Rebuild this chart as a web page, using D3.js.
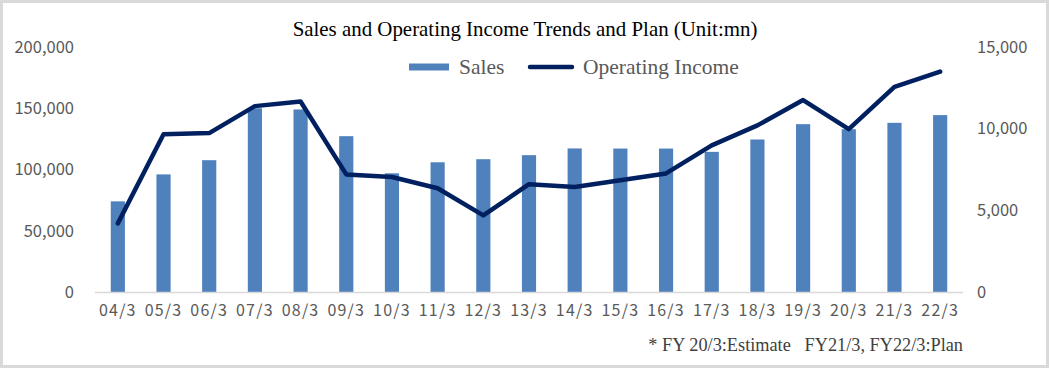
<!DOCTYPE html>
<html>
<head>
<meta charset="utf-8">
<script src="https://cdn.jsdelivr.net/npm/d3@7"></script>
<style>
  body { margin: 0; background: #fff; }
  svg { display: block; }
</style>
</head>
<body>
<svg id="chart" width="1049" height="368"></svg>
<script>
// fiscal years (ending March)
var years = ["04/3","05/3","06/3","07/3","08/3","09/3","10/3","11/3","12/3","13/3",
             "14/3","15/3","16/3","17/3","18/3","19/3","20/3","21/3","22/3"];
// sales, mn (left axis)
var sales = [74000, 96000, 107600, 150000, 149000, 127200, 96900, 105900, 108400, 111700,
             117200, 117100, 117100, 114400, 124500, 137000, 132900, 138100, 144400];
// operating income, mn (right axis)
var opIncome = [4200, 9660, 9730, 11380, 11660, 7200, 7040, 6350, 4690, 6600,
                6430, 6840, 7260, 8980, 10200, 11750, 9970, 12560, 13490];
var leftTicks = [0, 50000, 100000, 150000, 200000];
var rightTicks = [0, 5000, 10000, 15000];

var svg = d3.select("#chart");
var W = 1049, H = 368;
var m = {left: 95, right: 86, top: 47, bottom: 76}; // plot area 95..963, 47..292

// outer grey frame
svg.append("rect")
  .attr("x", 1.5).attr("y", 1.5)
  .attr("width", W - 3).attr("height", H - 3)
  .attr("fill", "#fff")
  .attr("stroke", "#d9d9d9")
  .attr("stroke-width", 3);

var x = d3.scaleBand()
  .domain(years)
  .range([m.left, W - m.right])
  .paddingInner(0.69)
  .paddingOuter(0.345);

var yL = d3.scaleLinear().domain([0, 200000]).range([H - m.bottom, m.top]);
var yR = d3.scaleLinear().domain([0, 15000]).range([H - m.bottom, m.top]);

var axisFont = "'Noto Sans CJK JP', 'Noto Sans', sans-serif";
var serif = "'Liberation Serif', 'Times New Roman', serif";

// bars
svg.append("g").selectAll("rect")
  .data(sales)
  .enter().append("rect")
  .attr("x", function (d, i) { return x(years[i]); })
  .attr("y", function (d) { return yL(d); })
  .attr("width", x.bandwidth())
  .attr("height", function (d) { return yL(0) - yL(d); })
  .attr("fill", "#4f81bd");

// baseline
svg.append("line")
  .attr("x1", m.left).attr("x2", W - m.right)
  .attr("y1", yL(0) + 0.5).attr("y2", yL(0) + 0.5)
  .attr("stroke", "#d9d9d9").attr("stroke-width", 1.5);

// operating income line
var line = d3.line()
  .x(function (d, i) { return x(years[i]) + x.bandwidth() / 2; })
  .y(function (d) { return yR(d); });

svg.append("path")
  .datum(opIncome)
  .attr("d", line)
  .attr("fill", "none")
  .attr("stroke", "#002060")
  .attr("stroke-width", 4.5)
  .attr("stroke-linejoin", "round")
  .attr("stroke-linecap", "round");

// left axis
var axL = d3.axisLeft(yL).tickValues(leftTicks).tickSize(0).tickPadding(0)
  .tickFormat(d3.format(","));
var gL = svg.append("g").attr("transform", "translate(74,0)").call(axL);
gL.select(".domain").remove();
gL.selectAll("text")
  .attr("fill", "#595959")
  .style("font-family", axisFont)
  .style("font-size", "16.5px");

// right axis
var axR = d3.axisRight(yR).tickValues(rightTicks).tickSize(0).tickPadding(0)
  .tickFormat(d3.format(","));
var gR = svg.append("g").attr("transform", "translate(977,0)").call(axR);
gR.select(".domain").remove();
gR.selectAll("text")
  .attr("fill", "#595959")
  .style("font-family", axisFont)
  .style("font-size", "16.5px");

// x axis labels
var axX = d3.axisBottom(x).tickSize(0).tickPadding(13);
var gX = svg.append("g").attr("transform", "translate(0," + yL(0) + ")").call(axX);
gX.select(".domain").remove();
gX.selectAll("text")
  .attr("fill", "#595959")
  .style("font-family", axisFont)
  .style("font-size", "16px")
  .style("letter-spacing", "1.2px");

// title
svg.append("text")
  .attr("x", 525).attr("y", 36)
  .attr("text-anchor", "middle")
  .attr("fill", "#000")
  .style("font-family", serif)
  .style("font-size", "20.9px")
  .text("Sales and Operating Income Trends and Plan (Unit:mn)");

// legend
var lg = svg.append("g").attr("transform", "translate(409,67)");
lg.append("rect").attr("x", 0).attr("y", -3.5).attr("width", 40).attr("height", 7).attr("fill", "#4f81bd");
lg.append("text").attr("x", 50).attr("y", 7)
  .attr("fill", "#595959").style("font-family", serif).style("font-size", "21.5px").text("Sales");
lg.append("line").attr("x1", 121).attr("x2", 163).attr("y1", 0).attr("y2", 0)
  .attr("stroke", "#002060").attr("stroke-width", 4.5).attr("stroke-linecap", "round");
lg.append("text").attr("x", 174).attr("y", 7)
  .attr("fill", "#595959").style("font-family", serif).style("font-size", "21.5px").text("Operating Income");

// footnote
svg.append("text")
  .attr("x", 963).attr("y", 351)
  .attr("text-anchor", "end")
  .attr("fill", "#404040")
  .style("font-family", serif)
  .style("font-size", "18.3px")
  .style("white-space", "pre")
  .attr("xml:space", "preserve")
  .text("* FY 20/3:Estimate   FY21/3, FY22/3:Plan");
</script>
</body>
</html>
